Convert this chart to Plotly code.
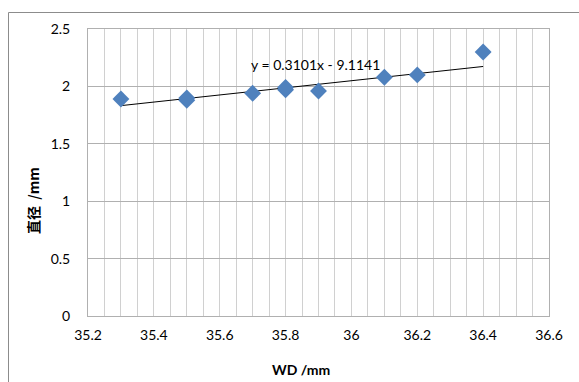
import plotly.graph_objects as go
import numpy as np

# Measured working distance vs. diameter
wd = [35.3, 35.5, 35.5, 35.7, 35.8, 35.8, 35.9, 36.1, 36.2, 36.4]
diameter = [1.89, 1.88, 1.90, 1.94, 1.97, 1.99, 1.96, 2.08, 2.10, 2.30]

# Linear fit shown on the chart
slope = 0.3101
intercept = -9.1141
fit_label = "y = 0.3101x - 9.1141"

x_fit = np.array([min(wd), max(wd)])
y_fit = slope * x_fit + intercept

W, H = 579, 382
L, R, T, B = 88, 30, 29, 66
pw, ph = W - L - R, H - T - B


def px_to_paper_x(px):
    return (px - L) / pw


def px_to_paper_y(py):
    return (H - B - py) / ph


fig = go.Figure()
fig.add_trace(go.Scatter(
    x=x_fit, y=y_fit, mode="lines",
    line=dict(color="#000000", width=1), hoverinfo="skip", showlegend=False))
fig.add_trace(go.Scatter(
    x=wd, y=diameter, mode="markers",
    marker=dict(symbol="diamond", size=13, color="#4F81BD",
                line=dict(width=0)),
    showlegend=False))

# Trendline equation
fig.add_annotation(x=35.89, y=2.095, text=fit_label, showarrow=False,
                   xanchor="center", yanchor="bottom",
                   font=dict(family="Lato", size=14, color="#000000"))

# Axis titles
fig.add_annotation(xref="paper", yref="paper",
                   x=px_to_paper_x(301), y=px_to_paper_y(369),
                   text="<b>WD /mm</b>", showarrow=False,
                   xanchor="center", yanchor="middle",
                   font=dict(family="Lato", size=14, color="#000000"))
fig.add_annotation(xref="paper", yref="paper",
                   x=px_to_paper_x(33), y=px_to_paper_y(201),
                   text="<b>直径  /mm</b>", showarrow=False, textangle=-90,
                   xanchor="center", yanchor="middle",
                   font=dict(family="Noto Sans CJK SC", size=14, color="#000000"))

# Outer chart frame
frame_color = "#8C8C8C"
fig.add_shape(type="line", xref="paper", yref="paper",
              x0=px_to_paper_x(8.5), y0=px_to_paper_y(12.5),
              x1=px_to_paper_x(8.5), y1=px_to_paper_y(382),
              line=dict(color=frame_color, width=1))
fig.add_shape(type="line", xref="paper", yref="paper",
              x0=px_to_paper_x(8.5), y0=px_to_paper_y(12.5),
              x1=px_to_paper_x(579), y1=px_to_paper_y(12.5),
              line=dict(color=frame_color, width=1))

fig.update_layout(
    width=W, height=H,
    margin=dict(l=L, r=R, t=T, b=B),
    paper_bgcolor="white", plot_bgcolor="white",
    font=dict(family="Lato", size=14, color="#000000"),
    xaxis=dict(
        range=[35.2, 36.6], tick0=35.2, dtick=0.2, tickformat="~g",
        showgrid=True, gridcolor="#D0D0D0", gridwidth=1,
        minor=dict(dtick=0.05, showgrid=True, gridcolor="#D0D0D0", gridwidth=1),
        showline=True, linecolor="#B0B0B0", mirror=True,
        ticks="outside", ticklen=6, tickcolor="white", zeroline=False,
    ),
    yaxis=dict(
        range=[0, 2.5], dtick=0.5, tickformat="~g",
        showgrid=True, gridcolor="#B0B0B0", gridwidth=1,
        showline=True, linecolor="#B0B0B0", mirror=True,
        ticks="outside", ticklen=14, tickcolor="white", zeroline=False,
    ),
)

fig.write_html("out.html")
